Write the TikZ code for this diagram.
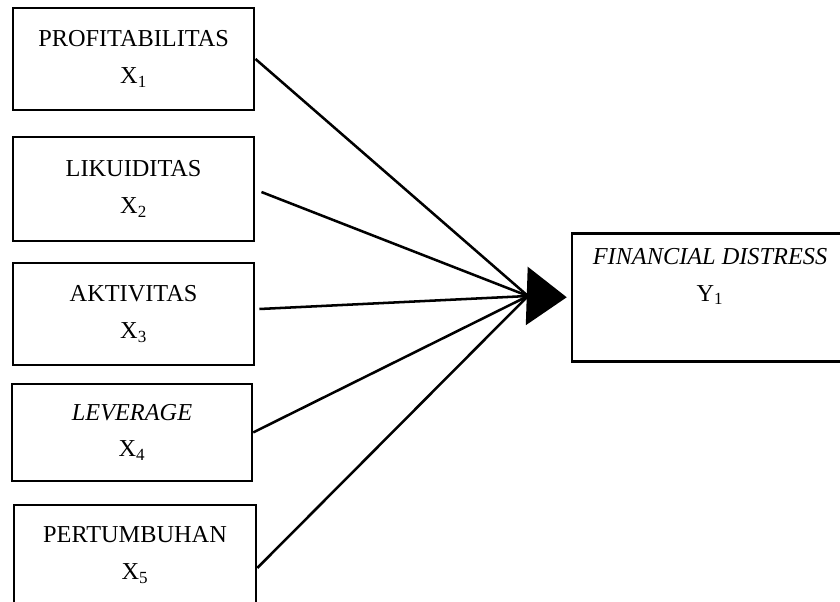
\documentclass[tikz,border=0pt]{standalone}
\usepackage{fontspec}
\setmainfont{Liberation Serif}
\usetikzlibrary{arrows.meta}
\begin{document}
\begin{tikzpicture}[line width=1.8pt, font=\fontsize{17.3}{26}\selectfont,
        kotak/.style={draw, align=center, minimum width=6.03cm, minimum height=2.55cm},
        panah/.style={-{Triangle[length=1cm, width=1.45cm]}}]
        \useasboundingbox (0,0) rectangle (21,-15.025);
        \node[kotak]
        (x1) at (3.34,-1.475) {PROFITABILITAS\\X\textsubscript{1}};
        \node[kotak, minimum height=2.6cm]
        (x2) at (3.34,-4.725) {LIKUIDITAS\\X\textsubscript{2}};
        \node[kotak]
        (x3) at (3.34,-7.85) {AKTIVITAS\\X\textsubscript{3}};
        \node[kotak, minimum width=6.0cm, minimum height=2.43cm]
        (x4) at (3.3,-10.81) {\textit{LEVERAGE}\\X\textsubscript{4}};
        \node[kotak, minimum width=6.05cm, minimum height=2.5cm]
        (x5) at (3.375,-13.875) {PERTUMBUHAN\\X\textsubscript{5}};
        \node[kotak, minimum width=6.9cm, minimum height=3.2cm, anchor=north,
        text height=1.5cm, text depth=1.3cm]
        (y1) at (17.75,-5.8) {\textit{FINANCIAL DISTRESS}\\Y\textsubscript{1}};

        \coordinate (hub) at (13.2,-7.4);
        \draw (x1.east) -- (hub);
        \draw ([xshift=1.5mm, yshift=-0.75mm]x2.east) -- (hub);
        \draw ([xshift=1mm, yshift=1.25mm]x3.east) -- (hub);
        \draw (x4.east) -- (hub);
        \draw ([yshift=-3.25mm]x5.east) -- (hub);
        \draw[panah] (hub) -- ([xshift=-1mm]y1.west);
    \end{tikzpicture}
\end{document}
